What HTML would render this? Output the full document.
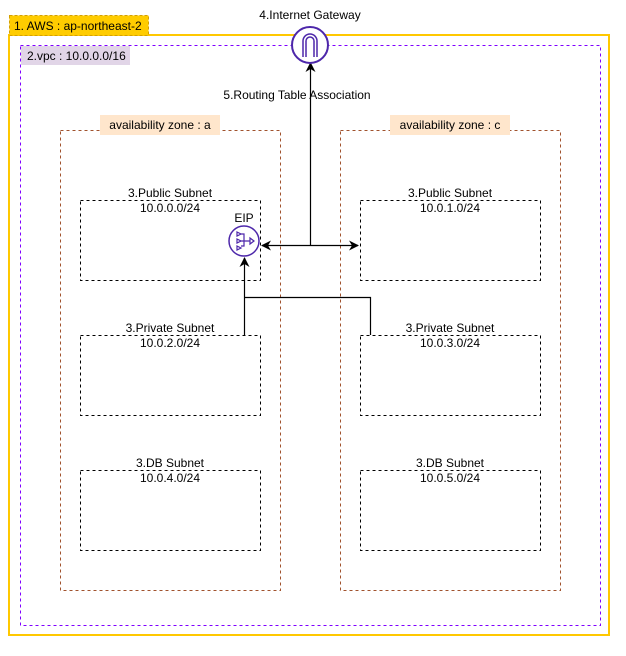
<!DOCTYPE html><html><head><style>body{margin:0;background:#fff}</style></head><body>
<svg width="626" height="651" xmlns="http://www.w3.org/2000/svg" font-family="Liberation Sans, sans-serif" font-size="12">
<defs><marker id="a" markerWidth="10" markerHeight="10" refX="9" refY="5" orient="auto" markerUnits="userSpaceOnUse"><path d="M0,0L10,5L0,10L3,5Z" fill="#000"/></marker></defs>
<rect x="9" y="35" width="600" height="600" fill="none" stroke="#FFC800" stroke-width="2"/>
<rect x="9.5" y="15.5" width="139" height="20" fill="#FFCC00" stroke="#d4a000" stroke-dasharray="3,2"/>
<text x="14" y="30" fill="#000">1. AWS : ap-northeast-2</text>
<rect x="20.5" y="45.5" width="580" height="580" fill="none" stroke="#7f00ff" stroke-dasharray="3,3"/>
<rect x="21" y="46" width="109" height="19" fill="#e1d5e7"/>
<text x="27" y="60">2.vpc : 10.0.0.0/16</text>
<g fill="none" stroke="#a0522d" stroke-dasharray="3,3"><rect x="60.5" y="130.5" width="220" height="460"/><rect x="340.5" y="130.5" width="220" height="460"/></g>
<rect x="100" y="115" width="120" height="20" fill="#ffe6cc"/><text x="160" y="129" text-anchor="middle">availability zone : a</text>
<rect x="390" y="115" width="120" height="20" fill="#ffe6cc"/><text x="450" y="129" text-anchor="middle">availability zone : c</text>
<g fill="none" stroke="#000" stroke-dasharray="3,3">
<rect x="80.5" y="200.5" width="180" height="80"/><rect x="80.5" y="335.5" width="180" height="80"/><rect x="80.5" y="470.5" width="180" height="80"/>
<rect x="360.5" y="200.5" width="180" height="80"/><rect x="360.5" y="335.5" width="180" height="80"/><rect x="360.5" y="470.5" width="180" height="80"/></g>
<g text-anchor="middle">
<text x="170" y="197">3.Public Subnet</text><text x="170" y="212">10.0.0.0/24</text>
<text x="170" y="332">3.Private Subnet</text><text x="170" y="347">10.0.2.0/24</text>
<text x="170" y="467">3.DB Subnet</text><text x="170" y="482">10.0.4.0/24</text>
<text x="450" y="197">3.Public Subnet</text><text x="450" y="212">10.0.1.0/24</text>
<text x="450" y="332">3.Private Subnet</text><text x="450" y="347">10.0.3.0/24</text>
<text x="450" y="467">3.DB Subnet</text><text x="450" y="482">10.0.5.0/24</text>
<text x="310" y="19">4.Internet Gateway</text>
<rect x="218" y="87" width="158" height="14" fill="#fff"/>
<text x="297" y="99">5.Routing Table Association</text>
<text x="244" y="222">EIP</text></g>
<g stroke="#000" fill="none" stroke-width="1.2">
<path d="M310.5 245V63" marker-end="url(#a)"/>
<path d="M310 245.5H262" marker-end="url(#a)"/><path d="M310 245.5H358" marker-end="url(#a)"/>
<path d="M244.5 335V258" marker-end="url(#a)"/>
<path d="M244.5 297.5H370.5V335"/></g>
<circle cx="310" cy="45" r="18" fill="#fff" stroke="#4d27aa" stroke-width="2"/>
<path d="M303 57V41a7 7 0 0 1 14 0V57M306 57V41a4 4 0 0 1 8 0V57" fill="none" stroke="#4d27aa" stroke-width="1.5"/>
<circle cx="244" cy="241" r="15" fill="#fff" stroke="#4d27aa" stroke-width="1.5"/>
<g fill="none" stroke="#4d27aa" stroke-width="1.2"><path d="M237 232l4 2-4 2zM237 239l4 2-4 2zM237 246l4 2-4 2zM241 234h3v12h-3M241 241h9M250 238l4 3-4 3z"/></g>
</svg></body></html>
